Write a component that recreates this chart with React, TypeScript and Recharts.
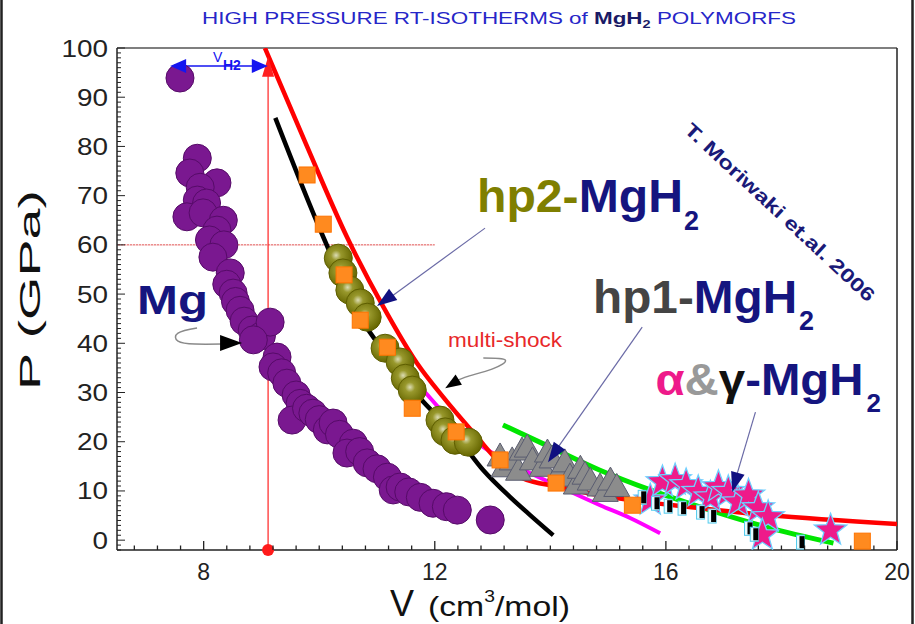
import React from 'react';
import { ComposedChart, XAxis, YAxis, Line, Scatter, ReferenceLine, ReferenceDot } from 'recharts';

// 所有数值从参考图读取 (V cm3/mol, P GPa)
const X_MAJOR = [8, 12, 16, 20];
const X_TICKS = Array.from({ length: 34 }, (_, i) => +(6.8 + i * 0.4).toFixed(1));
const Y_MAJOR = [0, 10, 20, 30, 40, 50, 60, 70, 80, 90, 100];
const Y_TICKS = Array.from({ length: 103 }, (_, i) => i - 2);

const MG = [
  { v: 7.59, p: 93.9 }, { v: 7.89, p: 77.6 }, { v: 7.76, p: 74.6 }, { v: 8.23, p: 72.6 },
  { v: 7.94, p: 71.7 }, { v: 7.89, p: 69.1 }, { v: 8.05, p: 68.5 }, { v: 7.71, p: 65.7 },
  { v: 7.99, p: 66.5 }, { v: 8.34, p: 65.0 }, { v: 8.23, p: 63.0 }, { v: 8.1, p: 61.0 },
  { v: 8.35, p: 60.0 }, { v: 8.16, p: 57.5 }, { v: 8.46, p: 54.3 }, { v: 8.4, p: 52.0 },
  { v: 8.51, p: 50.2 }, { v: 8.55, p: 48.5 }, { v: 8.63, p: 46.7 }, { v: 8.7, p: 44.5 },
  { v: 8.84, p: 42.7 }, { v: 9.0, p: 41.5 }, { v: 9.15, p: 44.3 }, { v: 8.86, p: 40.7 },
  { v: 9.27, p: 37.2 }, { v: 9.2, p: 35.2 }, { v: 9.35, p: 34.0 }, { v: 9.44, p: 31.9 },
  { v: 9.6, p: 29.5 }, { v: 9.67, p: 27.8 }, { v: 9.53, p: 24.4 }, { v: 9.78, p: 26.8 },
  { v: 9.89, p: 25.8 }, { v: 10.0, p: 24.5 }, { v: 10.14, p: 22.4 }, { v: 10.24, p: 23.8 },
  { v: 10.35, p: 21.5 }, { v: 10.59, p: 19.7 }, { v: 10.48, p: 17.7 }, { v: 10.7, p: 18.0 },
  { v: 10.83, p: 15.7 }, { v: 11.0, p: 14.5 }, { v: 11.18, p: 12.8 }, { v: 11.28, p: 10.2 },
  { v: 11.4, p: 10.8 }, { v: 11.55, p: 9.8 }, { v: 11.75, p: 8.7 }, { v: 11.97, p: 7.5 },
  { v: 12.2, p: 6.8 }, { v: 12.39, p: 6.1 }, { v: 12.96, p: 4.1 },
];

const HP2 = [
  { v: 10.33, p: 57.3 }, { v: 10.41, p: 54.3 }, { v: 10.53, p: 50.8 }, { v: 10.71, p: 48.2 },
  { v: 10.83, p: 45.3 }, { v: 11.14, p: 39.0 }, { v: 11.4, p: 36.2 }, { v: 11.49, p: 32.9 },
  { v: 11.61, p: 30.5 }, { v: 12.09, p: 24.4 }, { v: 12.18, p: 22.0 }, { v: 12.35, p: 20.3 },
  { v: 12.58, p: 19.9 },
];

const SHOCK_PTS = [
  { v: 9.79, p: 74.2 }, { v: 10.07, p: 64.2 }, { v: 10.43, p: 53.9 }, { v: 10.71, p: 44.7 },
  { v: 11.18, p: 39.2 }, { v: 11.61, p: 26.8 }, { v: 12.37, p: 22.0 }, { v: 13.13, p: 16.3 },
  { v: 14.1, p: 11.6 }, { v: 15.42, p: 7.1 }, { v: 19.4, p: -0.2 },
];

const HP1 = [
  { v: 13.13, p: 16.7 }, { v: 13.2, p: 14.5 }, { v: 13.34, p: 15.9 }, { v: 13.45, p: 13.8 },
  { v: 13.51, p: 17.9 }, { v: 13.6, p: 18.5 }, { v: 13.69, p: 15.9 }, { v: 13.86, p: 14.6 },
  { v: 13.95, p: 17.5 }, { v: 14.03, p: 16.3 }, { v: 14.17, p: 13.8 }, { v: 14.25, p: 15.5 },
  { v: 14.34, p: 12.6 }, { v: 14.45, p: 11.0 }, { v: 14.52, p: 14.2 }, { v: 14.6, p: 13.0 },
  { v: 14.69, p: 11.8 }, { v: 14.86, p: 10.6 }, { v: 14.95, p: 9.5 }, { v: 15.04, p: 11.8 },
  { v: 15.15, p: 10.5 },
];

const ALPHA = [
  { v: 15.73, p: 8.1 }, { v: 15.94, p: 11.8 }, { v: 16.16, p: 12.2 }, { v: 16.35, p: 11.2 },
  { v: 16.56, p: 9.8 }, { v: 16.77, p: 8.7 }, { v: 16.91, p: 10.8 }, { v: 17.08, p: 9.8 },
  { v: 17.25, p: 7.7 }, { v: 17.43, p: 9.1 }, { v: 17.6, p: 6.5 }, { v: 17.77, p: 4.7 },
  { v: 17.67, p: 1.0 }, { v: 18.85, p: 2.0 },
];

const GAMMA = [
  { v: 15.59, p: 8.7 }, { v: 15.82, p: 7.5 }, { v: 16.04, p: 6.9 }, { v: 16.28, p: 6.5 },
  { v: 16.6, p: 5.7 }, { v: 16.8, p: 4.9 }, { v: 17.43, p: 2.4 }, { v: 17.53, p: 1.2 },
  { v: 18.33, p: -0.4 },
];

const RED_FIT = [
  { v: 9.06, p: 100 }, { v: 9.77, p: 80.5 }, { v: 10.48, p: 61.6 }, { v: 11.11, p: 47.4 },
  { v: 11.69, p: 36.0 }, { v: 12.15, p: 29.0 }, { v: 12.73, p: 21.0 }, { v: 13.13, p: 15.7 },
  { v: 13.48, p: 12.8 }, { v: 14.17, p: 10.8 }, { v: 14.86, p: 9.1 }, { v: 16.6, p: 6.5 },
  { v: 17.76, p: 5.1 }, { v: 20.0, p: 3.3 },
];

const BLACK_FIT = [
  { v: 9.24, p: 85.8 }, { v: 10.07, p: 61.6 }, { v: 10.71, p: 45.3 }, { v: 11.23, p: 36.6 },
  { v: 11.69, p: 29.6 }, { v: 12.39, p: 20.9 }, { v: 12.84, p: 14.2 }, { v: 13.31, p: 8.7 },
  { v: 13.65, p: 5.1 }, { v: 14.05, p: 1.0 },
];

const MAGENTA_FIT = [
  { v: 11.18, p: 38.2 }, { v: 11.69, p: 31.9 }, { v: 12.39, p: 23.0 }, { v: 12.84, p: 18.9 },
  { v: 13.43, p: 14.9 }, { v: 14.17, p: 10.8 }, { v: 14.86, p: 7.1 }, { v: 15.38, p: 4.5 },
  { v: 15.9, p: 1.4 },
];

const GREEN_FIT = [
  { v: 13.18, p: 23.4 }, { v: 14.0, p: 18.9 }, { v: 14.86, p: 14.2 }, { v: 15.73, p: 10.2 },
  { v: 16.6, p: 6.7 }, { v: 17.76, p: 2.6 }, { v: 18.9, p: -0.6 },
];

// 注释线
const V_H2 = 9.115;
const VH2_LINE = [{ v: 7.5, p: 96.34 }, { v: 9.0, p: 96.34 }];
const VH2_UP = [{ v: V_H2, p: -2 }, { v: V_H2, p: 94.5 }];
const DOT60 = [{ v: 6.5, p: 60 }, { v: 12, p: 60 }];
const HP2_PTR = [{ v: 12.87, p: 63.4 }, { v: 11.12, p: 48.4 }];
const HP1_PTR = [{ v: 15.59, p: 43.3 }, { v: 14.05, p: 17.48 }];
const ALPHA_PTR = [{ v: 17.55, p: 26.0 }, { v: 17.18, p: 11.4 }];
const SHOCK_CURVE = [
  { v: 12.84, p: 36.99 }, { v: 13.22, p: 36.59 }, { v: 12.99, p: 34.76 }, { v: 12.53, p: 33.13 }, { v: 12.27, p: 31.71 },
];
const MG_CURVE = [
  { v: 7.885, p: 43.09 }, { v: 7.556, p: 42.07 }, { v: 7.556, p: 40.45 }, { v: 7.85, p: 39.84 }, { v: 8.318, p: 39.84 },
];

const FONT = '"Liberation Sans", Arial, sans-serif';
const NAVY = '#15157f';

function XTick({ x, y, payload }: any) {
  const major = X_MAJOR.includes(payload.value);
  return (
    <g>
      <line x1={x} x2={x} y1={y} y2={y - (major ? 9 : 4.5)} stroke="#222" strokeWidth={1.3} />
      {major && (
        <text x={x} y={y + 30} textAnchor="middle" fontSize={23} fill="#222" fontFamily={FONT}>
          {payload.value}
        </text>
      )}
    </g>
  );
}

function YTick({ x, y, payload }: any) {
  const v = payload.value;
  const major = Y_MAJOR.includes(v);
  const s = String(v);
  return (
    <g>
      <line x1={x} x2={x + (major ? 8 : 4)} y1={y} y2={y} stroke="#222" strokeWidth={1} />
      {major && (
        <text x={x - 9} y={y + 8.5} textAnchor="end" fontSize={23} fill="#222" fontFamily={FONT}
          textLength={s.length * 15.5} lengthAdjust="spacingAndGlyphs">
          {s}
        </text>
      )}
    </g>
  );
}

const purpleDot = (s: any) => <circle cx={s.cx} cy={s.cy} r={14} fill="#7a1890" stroke="#560b68" strokeWidth={1} />;

const oliveDot = (s: any) => (
  <g>
    <defs>
      <radialGradient id="olv" cx="42%" cy="40%" r="60%">
        <stop offset="0%" stopColor="#dcdcb4" />
        <stop offset="30%" stopColor="#98982c" />
        <stop offset="100%" stopColor="#666600" />
      </radialGradient>
    </defs>
    <circle cx={s.cx} cy={s.cy} r={14} fill="url(#olv)" stroke="#5e5e00" strokeWidth={1} />
  </g>
);

const orangeSq = (s: any) => <rect x={s.cx - 8} y={s.cy - 8} width={16} height={16} fill="#ff8a1f" stroke="#ff7300" strokeWidth={1} />;

const grayTri = (s: any) => (
  <polygon points={`${s.cx},${s.cy - 15} ${s.cx - 13},${s.cy + 8} ${s.cx + 13},${s.cy + 8}`}
    fill="#8c8c8c" stroke="#5a5d70" strokeWidth={1} />
);

const pinkStar = (s: any) => {
  const pts: string[] = [];
  for (let i = 0; i < 10; i++) {
    const r = i % 2 === 0 ? 17 : 7;
    const a = -Math.PI / 2 + (i * Math.PI) / 5;
    pts.push(`${s.cx + r * Math.cos(a)},${s.cy + r * Math.sin(a)}`);
  }
  return <polygon points={pts.join(' ')} fill="#ee1a8a" stroke="#6fd0ff" strokeWidth={1.3} />;
};

const blackBar = (s: any) => (
  <g>
    <rect x={s.cx - 4} y={s.cy - 7} width={8} height={14} fill="#e8fbff" stroke="#55ccee" strokeWidth={1} />
    <rect x={s.cx - 1} y={s.cy - 6} width={5} height={12} fill="#000" />
  </g>
);

const head = (v: number, p: number, len: number, half: number, color: string, angle: number, key: string) => (
  <ReferenceDot key={key} x={v} y={p} r={0} ifOverflow="visible"
    shape={(s: any) => (
      <polygon points={`0,0 ${-len},${-half} ${-len},${half}`} fill={color}
        transform={`translate(${s.cx},${s.cy}) rotate(${angle})`} />
    )} />
);

const note = (v: number, p: number, key: string, content: React.ReactNode) => (
  <ReferenceDot key={key} x={v} y={p} r={0} ifOverflow="visible"
    shape={(s: any) => <g transform={`translate(${s.cx},${s.cy})`} fontFamily={FONT}>{content}</g>} />
);

const thin = (data: any[], key: string, color = '#6a6aa6', w = 1.2, type: any = 'linear') => (
  <Line key={key} data={data} dataKey="p" type={type} stroke={color} strokeWidth={w} dot={false}
    isAnimationActive={false} legendType="none" />
);

export default function App() {
  return (
    <div style={{ position: 'relative', width: 915, height: 624, background: '#fff', overflow: 'hidden' }}>
      <style>{'body{margin:0}'}</style>
      <ComposedChart width={915} height={624} margin={{ top: 48, right: 18, bottom: 0, left: 0 }}>
        <XAxis type="number" dataKey="v" domain={[6.5, 20]} ticks={X_TICKS} interval={0} allowDataOverflow
          tick={XTick} tickLine={false} tickSize={0} tickMargin={0} height={74}
          axisLine={{ stroke: '#222', strokeWidth: 1.5 }} />
        <YAxis type="number" dataKey="p" domain={[-2, 100]} ticks={Y_TICKS} interval={0} allowDataOverflow
          tick={YTick} tickLine={false} tickSize={0} tickMargin={0} width={117}
          axisLine={{ stroke: '#222', strokeWidth: 1.5 }} />
        <ReferenceLine y={100} stroke="#555" strokeWidth={1.5} />
        <ReferenceLine x={20} stroke="#222" strokeWidth={1.5} />

        {thin(DOT60, 'dot60', '#e05050', 1, 'linear')}
        <Line data={DOT60} dataKey="p" stroke="#fff" strokeWidth={1.2} strokeDasharray="1 2" dot={false} isAnimationActive={false} />
        {thin(VH2_UP, 'vup', '#ff2020', 1.2)}
        {thin(VH2_LINE, 'vh2', '#1515f0', 1.5)}

        <Scatter data={MG} shape={purpleDot} isAnimationActive={false} />
        <Scatter data={HP2} shape={oliveDot} isAnimationActive={false} />
        <Scatter data={HP1} shape={grayTri} isAnimationActive={false} />
        <Scatter data={ALPHA} shape={pinkStar} isAnimationActive={false} />
        <Scatter data={GAMMA} shape={blackBar} isAnimationActive={false} />

        <Line data={BLACK_FIT} dataKey="p" type="monotone" stroke="#000" strokeWidth={4.5} dot={false} isAnimationActive={false} />
        <Line data={MAGENTA_FIT} dataKey="p" type="monotone" stroke="#ff00ff" strokeWidth={4} dot={false} isAnimationActive={false} />
        <Line data={GREEN_FIT} dataKey="p" type="monotone" stroke="#00e600" strokeWidth={5} dot={false} isAnimationActive={false} />
        <Line data={RED_FIT} dataKey="p" type="monotone" stroke="#ff0000" strokeWidth={4.5} dot={false} isAnimationActive={false} />
        <Scatter data={SHOCK_PTS} shape={orangeSq} isAnimationActive={false} />

        {thin(HP2_PTR, 'hp2p')}
        {thin(HP1_PTR, 'hp1p')}
        {thin(ALPHA_PTR, 'alp')}
        {thin(SHOCK_CURVE, 'shc', '#8a8a8a', 1.5, 'natural')}
        {thin(MG_CURVE, 'mgc', '#8a8a8a', 1.5, 'natural')}

        <ReferenceDot x={V_H2} y={-2} r={6} fill="#ff1a1a" stroke="none" ifOverflow="visible" />
        {head(V_H2, 98.2, 20, 6, '#ff2020', -90, 'hv')}
        {head(7.42, 96.34, 16, 7, '#1515f0', 180, 'hl')}
        {head(9.11, 96.34, 16, 7, '#1515f0', 0, 'hr')}
        {head(11.0, 47.56, 20, 7, '#101080', 144, 'h2')}
        {head(13.96, 15.85, 20, 7, '#101080', 125, 'h1')}
        {head(17.15, 9.76, 20, 7, '#101080', 106, 'ha')}
        {head(12.18, 30.89, 16, 6, '#000', 148, 'hs')}
        {head(8.665, 40.04, 22, 8, '#000', 0, 'hm')}

        {note(8.16, 97.15, 'vh2t', (
          <g fill="#1515f0" fontWeight="bold">
            <text x={0} y={0} fontSize={14} fontWeight="normal">V</text>
            <text x={10} y={8} fontSize={14}>H2</text>
          </g>
        ))}
        {note(6.846, 45.93, 'mg', (
          <text x={0} y={0} fontSize={40} fontWeight="bold" fill={NAVY} textLength={71} lengthAdjust="spacingAndGlyphs">Mg</text>
        ))}
        {note(12.73, 66.67, 'hp2', (
          <g fontWeight="bold">
            <text x={0} y={0} fontSize={46} textLength={206} lengthAdjust="spacingAndGlyphs">
              <tspan fill="#7f7f00">hp2-</tspan><tspan fill={NAVY}>MgH</tspan>
            </text>
            <text x={207} y={18} fontSize={27} fill={NAVY}>2</text>
          </g>
        ))}
        {note(14.74, 46.14, 'hp1', (
          <g fontWeight="bold">
            <text x={0} y={0} fontSize={46} textLength={204} lengthAdjust="spacingAndGlyphs">
              <tspan fill="#444">hp1-</tspan><tspan fill={NAVY}>MgH</tspan>
            </text>
            <text x={206} y={17} fontSize={27} fill={NAVY}>2</text>
          </g>
        ))}
        {note(15.82, 29.5, 'ag', (
          <g fontWeight="bold">
            <text x={0} y={0} fontSize={44} textLength={208} lengthAdjust="spacingAndGlyphs">
              <tspan fill="#ee1a8a">α</tspan><tspan fill="#999">&amp;</tspan><tspan fill="#111">γ</tspan><tspan fill={NAVY}>-MgH</tspan>
            </text>
            <text x={211} y={17} fontSize={26} fill={NAVY}>2</text>
          </g>
        ))}
        {note(12.23, 39.2, 'ms', (
          <text x={0} y={0} fontSize={21} fill="#e8282a" textLength={114} lengthAdjust="spacingAndGlyphs">multi-shock</text>
        ))}
        {note(16.3, 83.1, 'ref', (
          <text x={0} y={0} fontSize={19} fontWeight="bold" fill="#1a1a78" transform="rotate(43)"
            textLength={252} lengthAdjust="spacingAndGlyphs">T. Moriwaki et.al. 2006</text>
        ))}
      </ComposedChart>

      <svg width={915} height={624} style={{ position: 'absolute', left: 0, top: 0, pointerEvents: 'none' }}
        fontFamily={FONT}>
        <rect x={1.5} y={-3} width={911} height={630} fill="none" stroke="#222" strokeWidth={2.5} />
        <text x={202} y={24} fontSize={17} fill="#2626c8" textLength={594} lengthAdjust="spacingAndGlyphs">
          HIGH PRESSURE RT-ISOTHERMS of <tspan fontWeight="bold" fill="#1a1a66">MgH</tspan>
          <tspan fontWeight="bold" fill="#1a1a66" fontSize={11} dy={4}>2</tspan>
          <tspan dy={-4}> POLYMORFS</tspan>
        </text>
        <text transform="translate(40,290) rotate(-90)" textAnchor="middle" fontSize={30} fill="#111"
          textLength={200} lengthAdjust="spacingAndGlyphs">P (GPa)</text>
        <text x={390} y={616} fontSize={36} fill="#111">V</text>
        <text x={428} y={616} fontSize={28} fill="#111" textLength={142} lengthAdjust="spacingAndGlyphs">
          (cm<tspan fontSize={16} dy={-14}>3</tspan><tspan dy={14}>/mol)</tspan>
        </text>
      </svg>
    </div>
  );
}
